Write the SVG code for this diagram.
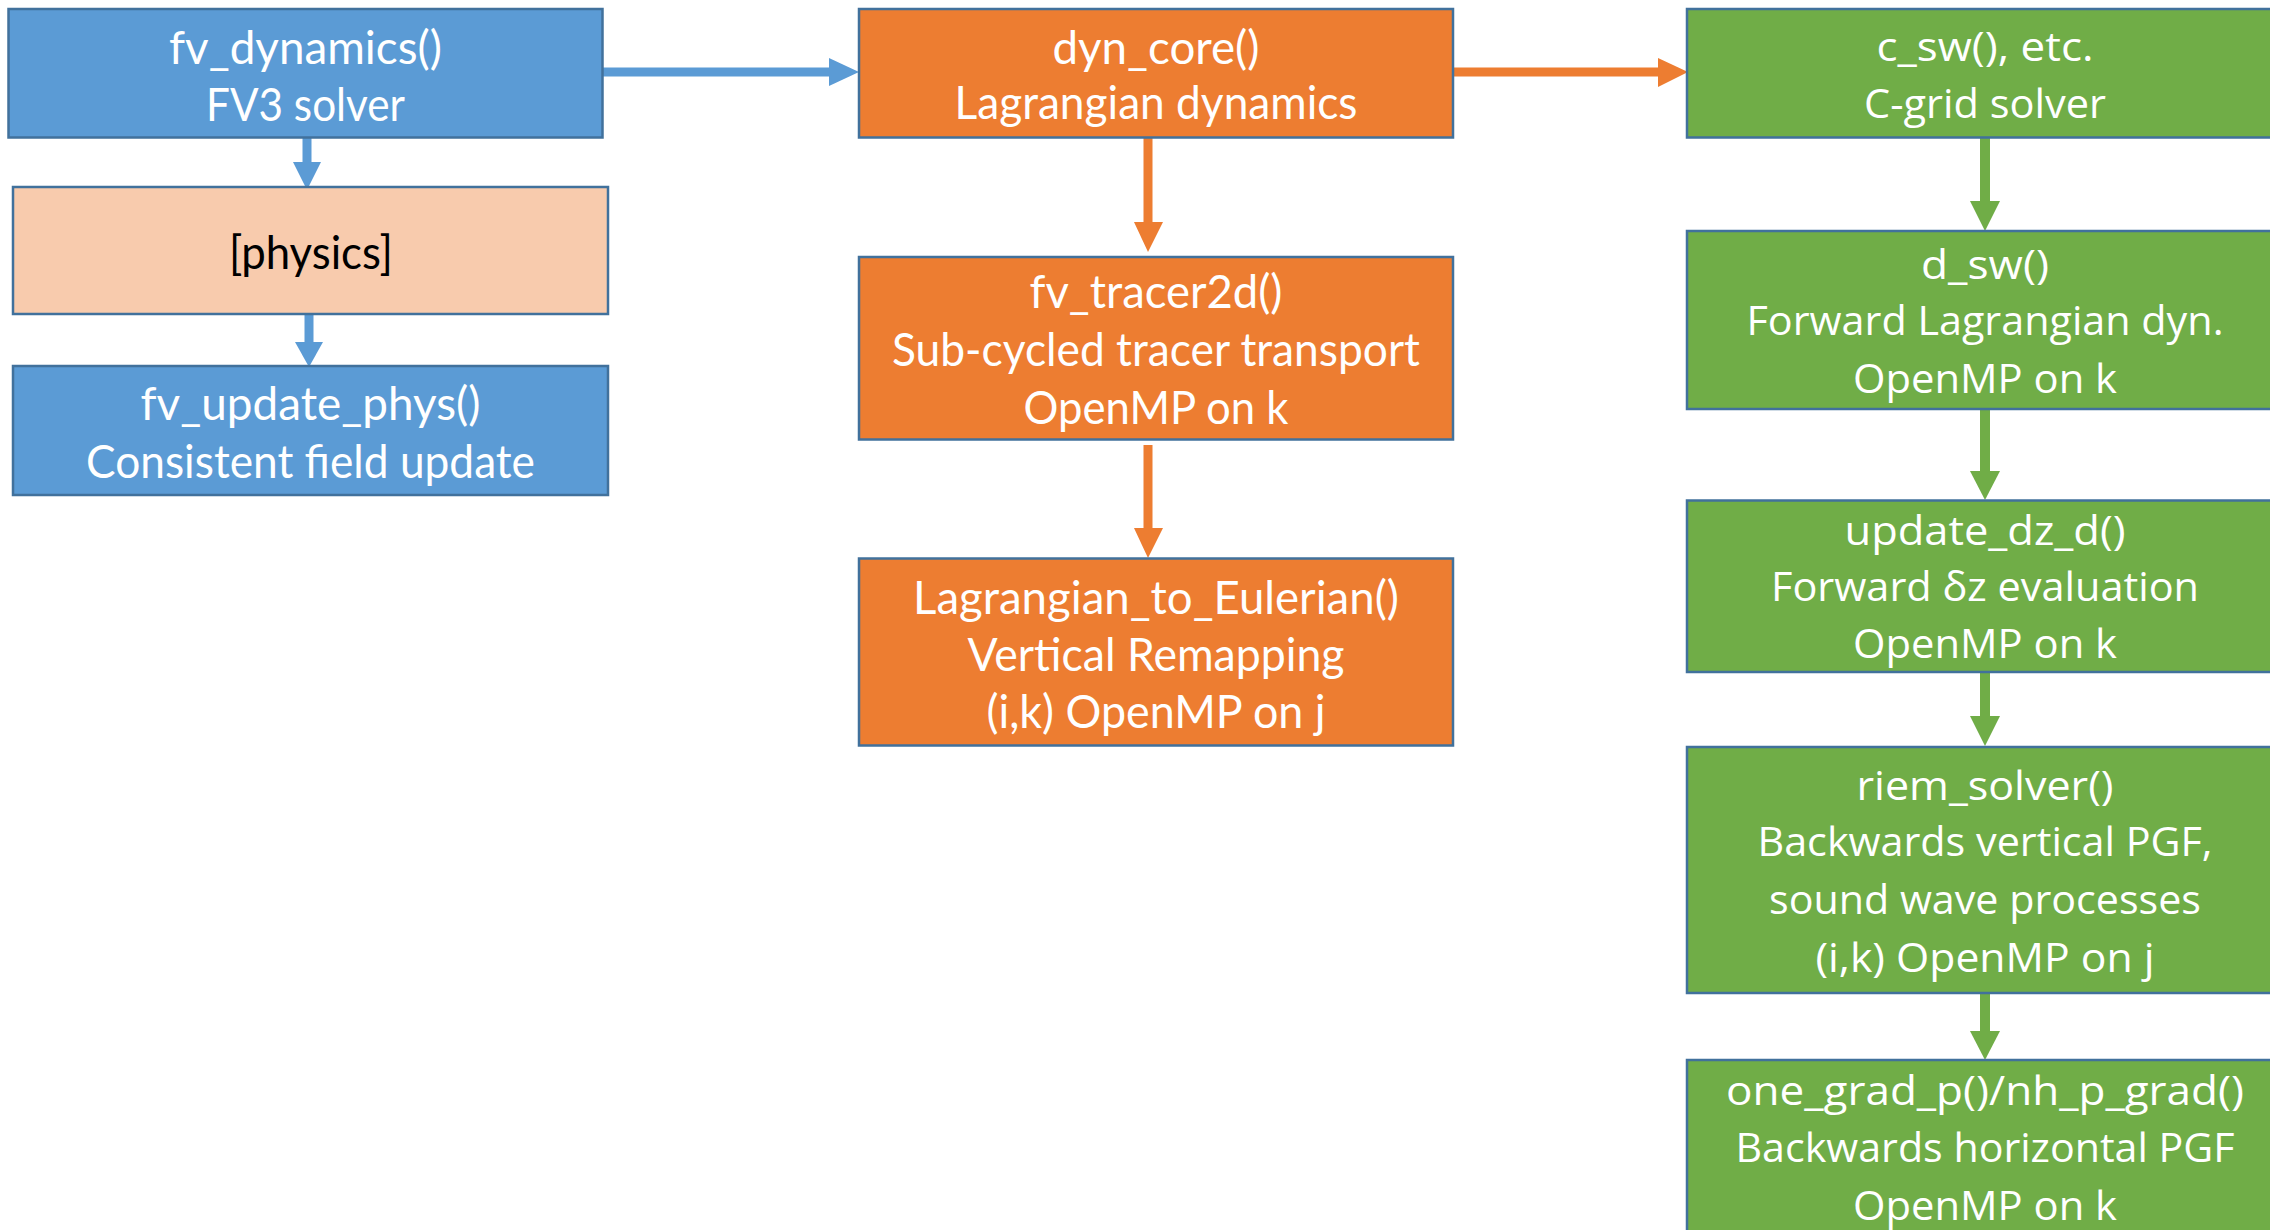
<svg xmlns="http://www.w3.org/2000/svg" width="2270" height="1230" viewBox="0 0 2270 1230">
<defs>
<style>
.box{stroke:#41719C;stroke-width:2.5}
.blue{fill:#5B9BD5}
.peach{fill:#F8CBAD}
.orange{fill:#ED7D31}
.green{fill:#70AD47}
.t{font-family:Lato,"Liberation Sans",sans-serif;font-size:46px;fill:#FFFFFF;text-anchor:middle}
.g{font-family:"Open Sans","Noto Sans",sans-serif;font-size:40px;fill:#FFFFFF;text-anchor:middle}
.dark{fill:#000000}
.lb{stroke:#5B9BD5;stroke-width:9;fill:none}
.lo{stroke:#ED7D31;stroke-width:9;fill:none}
.lg{stroke:#70AD47;stroke-width:10;fill:none}
</style>
</defs>
<rect width="2270" height="1230" fill="#FFFFFF"/>
<g id="connectors">
<path class="lb" d="M602 72 H832"/>
<polygon fill="#5B9BD5" points="829,58 859,72 829,86"/>
<path class="lb" d="M307 137 V165"/>
<polygon fill="#5B9BD5" points="293,162 321,162 307,190"/>
<path class="lb" d="M309 314 V345"/>
<polygon fill="#5B9BD5" points="295,342 323,342 309,367"/>
<path class="lo" d="M1453 72 H1660"/>
<polygon fill="#ED7D31" points="1658,58 1688,72 1658,87"/>
<path class="lo" d="M1148 137 V225"/>
<polygon fill="#ED7D31" points="1134,222 1163,222 1148,252"/>
<path class="lo" d="M1148 445 V531"/>
<polygon fill="#ED7D31" points="1134,528 1163,528 1148,558"/>
<path class="lg" d="M1985 137 V204"/>
<polygon fill="#70AD47" points="1970,201 2000,201 1985,231"/>
<path class="lg" d="M1985 409 V474"/>
<polygon fill="#70AD47" points="1970,471 2000,471 1985,500"/>
<path class="lg" d="M1985 672 V719"/>
<polygon fill="#70AD47" points="1970,716 2000,716 1985,746"/>
<path class="lg" d="M1985 993 V1034"/>
<polygon fill="#70AD47" points="1970,1031 2000,1031 1985,1060"/>
</g>
<g id="fv_dynamics">
<rect class="box blue" x="8.5" y="9" width="594" height="128.5"/>
<text class="t" x="305.5" y="64" textLength="273" lengthAdjust="spacingAndGlyphs">fv_dynamics()</text>
<text class="t" x="305.5" y="121" textLength="199" lengthAdjust="spacingAndGlyphs">FV3 solver</text>
</g>
<g id="physics">
<rect class="box peach" x="13" y="187" width="595" height="127"/>
<text class="t dark" x="311" y="269" textLength="164" lengthAdjust="spacingAndGlyphs">[physics]</text>
</g>
<g id="fv_update_phys">
<rect class="box blue" x="13" y="366" width="595" height="129"/>
<text class="t" x="310.5" y="420" textLength="340" lengthAdjust="spacingAndGlyphs">fv_update_phys()</text>
<text class="t" x="310.5" y="478" textLength="449" lengthAdjust="spacingAndGlyphs">Consistent field update</text>
</g>
<g id="dyn_core">
<rect class="box orange" x="859" y="9" width="594" height="128.5"/>
<text class="t" x="1156" y="64" textLength="207" lengthAdjust="spacingAndGlyphs">dyn_core()</text>
<text class="t" x="1156" y="119" textLength="403" lengthAdjust="spacingAndGlyphs">Lagrangian dynamics</text>
</g>
<g id="fv_tracer2d">
<rect class="box orange" x="859" y="257" width="594" height="182.5"/>
<text class="t" x="1156" y="308" textLength="253" lengthAdjust="spacingAndGlyphs">fv_tracer2d()</text>
<text class="t" x="1156" y="366" textLength="528" lengthAdjust="spacingAndGlyphs">Sub-cycled tracer transport</text>
<text class="t" x="1156" y="424" textLength="265" lengthAdjust="spacingAndGlyphs">OpenMP on k</text>
</g>
<g id="lagrangian_to_eulerian">
<rect class="box orange" x="859" y="558.5" width="594" height="187"/>
<text class="t" x="1156" y="614" textLength="486" lengthAdjust="spacingAndGlyphs">Lagrangian_to_Eulerian()</text>
<text class="t" x="1156" y="671" textLength="377" lengthAdjust="spacingAndGlyphs">Vertical Remapping</text>
<text class="t" x="1156" y="728" textLength="339" lengthAdjust="spacingAndGlyphs">(i,k) OpenMP on j</text>
</g>
<g id="c_sw">
<rect class="box green" x="1687" y="9" width="600" height="128.5"/>
<text class="g" x="1985" y="61" textLength="217" lengthAdjust="spacingAndGlyphs">c_sw(), etc.</text>
<text class="g" x="1985" y="118" textLength="242" lengthAdjust="spacingAndGlyphs">C-grid solver</text>
</g>
<g id="d_sw">
<rect class="box green" x="1687" y="231" width="600" height="178"/>
<text class="g" x="1985" y="279" textLength="128" lengthAdjust="spacingAndGlyphs">d_sw()</text>
<text class="g" x="1985" y="335" textLength="477" lengthAdjust="spacingAndGlyphs">Forward Lagrangian dyn.</text>
<text class="g" x="1985" y="393" textLength="264" lengthAdjust="spacingAndGlyphs">OpenMP on k</text>
</g>
<g id="update_dz_d">
<rect class="box green" x="1687" y="500.5" width="600" height="171.5"/>
<text class="g" x="1985" y="545" textLength="281" lengthAdjust="spacingAndGlyphs">update_dz_d()</text>
<text class="g" x="1985" y="601" textLength="428" lengthAdjust="spacingAndGlyphs">Forward δz evaluation</text>
<text class="g" x="1985" y="658" textLength="264" lengthAdjust="spacingAndGlyphs">OpenMP on k</text>
</g>
<g id="riem_solver">
<rect class="box green" x="1687" y="747" width="600" height="246"/>
<text class="g" x="1985" y="800" textLength="257" lengthAdjust="spacingAndGlyphs">riem_solver()</text>
<text class="g" x="1985" y="856" textLength="455" lengthAdjust="spacingAndGlyphs">Backwards vertical PGF,</text>
<text class="g" x="1985" y="914" textLength="432" lengthAdjust="spacingAndGlyphs">sound wave processes</text>
<text class="g" x="1985" y="972" textLength="339" lengthAdjust="spacingAndGlyphs">(i,k) OpenMP on j</text>
</g>
<g id="one_grad_p">
<rect class="box green" x="1687" y="1060" width="600" height="200"/>
<text class="g" x="1985" y="1105" textLength="518" lengthAdjust="spacingAndGlyphs">one_grad_p()/nh_p_grad()</text>
<text class="g" x="1985" y="1162" textLength="499" lengthAdjust="spacingAndGlyphs">Backwards horizontal PGF</text>
<text class="g" x="1985" y="1220" textLength="264" lengthAdjust="spacingAndGlyphs">OpenMP on k</text>
</g>
</svg>
